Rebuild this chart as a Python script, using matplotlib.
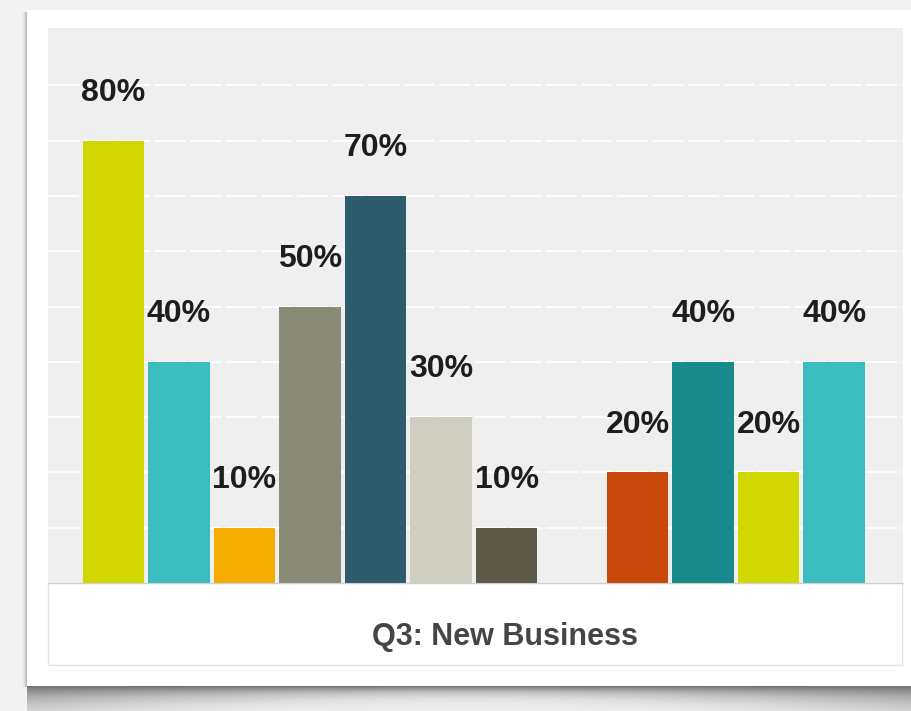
import numpy as np
import matplotlib.pyplot as plt
from matplotlib.patches import Rectangle

plt.rcParams['font.family'] = ['Liberation Sans', 'DejaVu Sans']

# Survey answers, two groups of bars separated by one empty slot
group_a = [80, 40, 10, 50, 70, 30, 10]
group_b = [20, 40, 20, 40]
colors_a = ['#d3d700', '#3bbdbf', '#f5ad00', '#8a8b77', '#2d5d6d', '#d0cec0', '#5c5947']
colors_b = ['#c8490b', '#198a8b', '#d3d700', '#3bbdbf']
title = 'Q3: New Business'

values = group_a + group_b
colors = colors_a + colors_b
positions = list(range(len(group_a))) + [len(group_a) + 1 + i for i in range(len(group_b))]

W, H = 911, 711
fig = plt.figure(figsize=(W / 100, H / 100), dpi=100)
fig.patch.set_facecolor('#f3f3f3')

# page / card background drawn in pixel units
bg = fig.add_axes([0, 0, 1, 1])
bg.set_xlim(0, W)
bg.set_ylim(H, 0)
bg.axis('off')

# drop shadow under the card: long at both ends, short in the middle
sx = np.linspace(0, 1, 400)
sy = np.linspace(0, 25, 50)
edge = np.clip(1 - 3.2 * sx * (1 - sx), 0, 1)
depth = 4 + 14 * edge
alpha = 0.78 * np.exp(-sy[:, None] / depth[None, :])
shadow = np.zeros((len(sy), len(sx), 4))
shadow[..., :3] = 0.3
shadow[..., 3] = alpha
bg.imshow(shadow, extent=(27, W, 711, 686), aspect='auto', zorder=1,
          interpolation='bilinear')

# thin shadow along the left edge
lx = np.linspace(0, 1, 20)
lshadow = np.zeros((1, len(lx), 4))
lshadow[..., :3] = 0.4
lshadow[..., 3] = lx ** 2 * 0.45
bg.imshow(lshadow, extent=(21, 27, 687, 12), aspect='auto', zorder=1)

bg.add_patch(Rectangle((27, 10), W - 27, 676, facecolor='white', edgecolor='none', zorder=2))
bg.add_patch(Rectangle((48, 583), 854, 82, facecolor='white', edgecolor='#e3e3e3', lw=1, zorder=3))

fig.text(505 / W, 1 - 637 / H, title, ha='center', va='center',
         fontsize=22, fontweight='bold', color='#454545')

# bar chart
ax = fig.add_axes([48 / W, 128 / H, 855 / W, 555 / H])
ax.set_facecolor('#efefef')
ax.set_xlim(-1.0, 12.05)
ax.set_ylim(0, 100.4)

for y in range(10, 100, 10):
    ax.axhline(y, color='white', lw=1.6, ls=(0, (14, 2)), alpha=0.9, zorder=0.5)

ax.bar(positions, values, width=0.94, color=colors, zorder=2)

for x, v in zip(positions, values):
    ax.text(x, v + 7.2, f'{v}%', ha='center', va='baseline',
            fontsize=23, fontweight='bold', color='#1e1e1e', zorder=3)

for side in ['top', 'left', 'right']:
    ax.spines[side].set_visible(False)
ax.spines['bottom'].set_color('#cfcfcf')
ax.set_xticks([])
ax.set_yticks([])

plt.savefig('out.png', dpi=100, facecolor=fig.get_facecolor())
